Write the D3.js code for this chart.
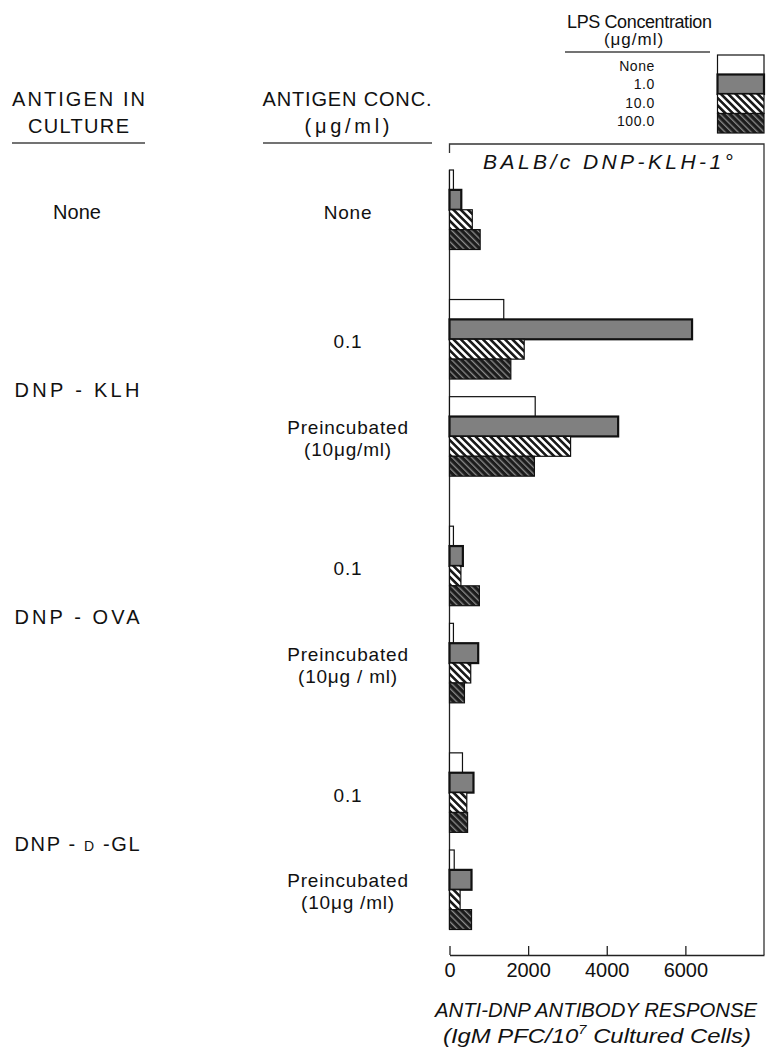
<!DOCTYPE html>
<html>
<head>
<meta charset="utf-8">
<script src="https://cdn.jsdelivr.net/npm/d3@7"></script>
<style>
  body { margin: 0; background: #fff; }
  svg { display: block; font-family: "Liberation Sans", Arial, sans-serif; }
</style>
</head>
<body>
<div id="chart"></div>
<script>
'use strict';

const lpsLevels = ['None', '1.0', '10.0', '100.0'];

const antigens = ['None', 'DNP - KLH', 'DNP - OVA', 'DNP - D -GL'];

// one entry per bar group, top to bottom
const groupAntigen = ['None', 'DNP - KLH', 'DNP - KLH', 'DNP - OVA', 'DNP - OVA', 'DNP - D -GL', 'DNP - D -GL'];
const groupConc = ['None', '0.1', 'Preincubated|(10μg/ml)', '0.1', 'Preincubated|(10μg / ml)', '0.1', 'Preincubated|(10μg /ml)'];

// anti-DNP IgM PFC / 10^7 cultured cells, one array per LPS concentration
const lpsNone = [100, 1380, 2180, 100, 100, 330, 120];
const lps1 = [300, 6170, 4290, 340, 730, 610, 560];
const lps10 = [580, 1900, 3080, 290, 540, 440, 270];
const lps100 = [780, 1560, 2160, 760, 380, 460, 560];

const xTicks = [0, 2000, 4000, 6000];

function buildChart() {

    const width = 774;
    const height = 1051;

    const plotLeft = 449.5;
    const plotRight = 764;
    const plotTop = 144;
    const plotBottom = 955;

    const svg = d3.select('#chart')
        .append('svg')
            .attr('width', width)
            .attr('height', height)
            .attr('viewBox', `0 0 ${width} ${height}`);

    // hatch patterns
    const defs = svg.append('defs');

    defs.append('pattern')
        .attr('id', 'hatchLight')
        .attr('patternUnits', 'userSpaceOnUse')
        .attr('width', 5.2)
        .attr('height', 5.2)
        .attr('patternTransform', 'rotate(-45)')
        .call(p => {
            p.append('rect').attr('width', 5.2).attr('height', 5.2).attr('fill', '#fff');
            p.append('rect').attr('width', 2.6).attr('height', 5.2).attr('fill', '#1a1a1a');
        });

    defs.append('pattern')
        .attr('id', 'hatchDark')
        .attr('patternUnits', 'userSpaceOnUse')
        .attr('width', 4.6)
        .attr('height', 4.6)
        .attr('patternTransform', 'rotate(-45)')
        .call(p => {
            p.append('rect').attr('width', 4.6).attr('height', 4.6).attr('fill', '#1c1c1c');
            p.append('rect').attr('width', 1.3).attr('height', 4.6).attr('fill', '#8a8a8a');
        });

    const fills = ['#ffffff', '#808080', 'url(#hatchLight)', 'url(#hatchDark)'];
    const strokeWidths = [1.2, 2.2, 1.2, 1.2];

    const series = [lpsNone, lps1, lps10, lps100];

    const groups = groupAntigen.map((antigen, i) => ({
        antigen,
        conc: groupConc[i].split('|'),
        bars: lpsLevels.map((lps, j) => ({ lps, idx: j, value: series[j][i] }))
    }));

    // 3 units between conditions of one antigen, 4 units between antigens
    let slot = 0;
    groups.forEach((g, i) => {
        if (i > 0) slot += g.antigen === groups[i - 1].antigen ? 3 : 4;
        g.slot = slot;
    });

    const x = d3.scaleLinear()
        .domain([0, 8000])
        .range([plotLeft, plotRight]);

    const y = d3.scaleLinear()
        .domain([0, slot])
        .range([170, 850]);

    const band = d3.scaleBand()
        .domain(lpsLevels)
        .range([0, 79.5]);

    const groupCenter = g => y(g.slot) + band.range()[1] / 2;

    // frame
    svg.append('path')
        .attr('d', `M${plotLeft},${plotTop + 9}V${plotTop}H${plotRight}V${plotBottom}`)
        .attr('fill', 'none')
        .attr('stroke', '#333')
        .attr('stroke-width', 1.3);

    // zero line
    svg.append('line')
        .attr('x1', x(0)).attr('x2', x(0))
        .attr('y1', y(0)).attr('y2', y(slot) + band.range()[1])
        .attr('stroke', '#222')
        .attr('stroke-width', 1.3);

    // x axis
    const xAxis = d3.axisBottom(x)
        .tickValues(xTicks)
        .tickSize(-9)
        .tickSizeOuter(0)
        .tickFormat(d3.format('d'));

    const axisG = svg.append('g')
        .attr('transform', `translate(0,${plotBottom})`)
        .call(xAxis);

    axisG.select('.domain').attr('stroke', '#222').attr('stroke-width', 1.3);
    axisG.selectAll('.tick line').attr('stroke', '#222').attr('stroke-width', 1.3);
    axisG.selectAll('.tick text')
        .attr('y', 22)
        .attr('dy', 0)
        .attr('font-size', 20)
        .attr('font-family', '"Liberation Sans", Arial, sans-serif')
        .attr('fill', '#111');

    // bars
    const groupG = svg.append('g')
        .selectAll('g')
        .data(groups)
        .enter()
            .append('g')
            .attr('transform', d => `translate(0,${y(d.slot)})`);

    groupG.selectAll('rect')
        .data(d => d.bars)
        .enter()
            .append('rect')
                .attr('x', x(0))
                .attr('y', d => band(d.lps))
                .attr('width', d => x(d.value) - x(0))
                .attr('height', band.bandwidth())
                .attr('fill', d => fills[d.idx])
                .attr('stroke', '#111')
                .attr('stroke-width', d => strokeWidths[d.idx]);

    // concentration labels
    const concText = svg.append('g')
        .selectAll('text')
        .data(groups)
        .enter()
            .append('text')
                .attr('text-anchor', 'middle')
                .attr('font-size', 19)
                .attr('fill', '#111')
                .attr('y', d => d.conc.length > 1 ? groupCenter(d) - 2.5 : groupCenter(d) + 9);

    concText.selectAll('tspan')
        .data(d => d.conc)
        .enter()
            .append('tspan')
                .attr('x', 348)
                .attr('dy', (d, i) => i === 0 ? 0 : 22)
                .attr('letter-spacing', 0.8)
                .text(d => d);

    // antigen labels
    antigens.forEach(a => {
        const members = groups.filter(g => g.antigen === a);
        const cy = d3.mean(members, groupCenter);
        const t = svg.append('text')
            .attr('x', 77)
            .attr('y', cy + 9.5)
            .attr('text-anchor', 'middle')
            .attr('font-size', 20)
            .attr('fill', '#111');
        if (a === 'None') {
            t.text(a);
        } else if (a.indexOf(' D ') >= 0) {
            t.attr('textLength', 125).attr('lengthAdjust', 'spacing');
            t.append('tspan').text('DNP - ');
            t.append('tspan').attr('font-size', 14).text('D');
            t.append('tspan').text(' -GL');
        } else {
            t.attr('textLength', 125).attr('lengthAdjust', 'spacing').text(a);
        }
    });

    // column headers
    const headers = [
        { lines: ['ANTIGEN IN', 'CULTURE'], cx: 78.5, widths: [133, 101], x0: 12, x1: 145 },
        { lines: ['ANTIGEN CONC.', '(μg/ml)'], cx: 347, widths: [169, 85], x0: 263, x1: 432 }
    ];

    headers.forEach(h => {
        h.lines.forEach((line, i) => {
            svg.append('text')
                .attr('x', h.cx)
                .attr('y', 106 + i * 27)
                .attr('text-anchor', 'middle')
                .attr('font-size', 20)
                .attr('fill', '#111')
                .attr('textLength', h.widths[i])
                .attr('lengthAdjust', 'spacing')
                .text(line);
        });
        svg.append('line')
            .attr('x1', h.x0).attr('x2', h.x1)
            .attr('y1', 143).attr('y2', 143)
            .attr('stroke', '#444')
            .attr('stroke-width', 1.3);
    });

    // panel title
    svg.append('text')
        .attr('x', 483)
        .attr('y', 169)
        .attr('font-size', 21)
        .attr('font-style', 'italic')
        .attr('fill', '#111')
        .attr('textLength', 250)
        .attr('lengthAdjust', 'spacing')
        .text('BALB/c  DNP-KLH-1°');

    // axis title
    svg.append('text')
        .attr('x', 596)
        .attr('y', 1017)
        .attr('text-anchor', 'middle')
        .attr('font-size', 20.5)
        .attr('font-style', 'italic')
        .attr('fill', '#111')
        .attr('textLength', 322)
        .attr('lengthAdjust', 'spacingAndGlyphs')
        .text('ANTI-DNP ANTIBODY RESPONSE');

    const sub = svg.append('text')
        .attr('x', 597)
        .attr('y', 1043)
        .attr('text-anchor', 'middle')
        .attr('font-size', 21)
        .attr('font-style', 'italic')
        .attr('fill', '#111')
        .attr('textLength', 308)
        .attr('lengthAdjust', 'spacingAndGlyphs');
    sub.append('tspan').text('(IgM PFC/10');
    sub.append('tspan').attr('font-size', 13).attr('dy', -9).text('7');
    sub.append('tspan').attr('dy', 9).text(' Cultured Cells)');

    // legend
    svg.append('text')
        .attr('x', 567)
        .attr('y', 28)
        .attr('font-size', 18)
        .attr('fill', '#111')
        .attr('textLength', 145)
        .attr('lengthAdjust', 'spacing')
        .text('LPS  Concentration');

    svg.append('text')
        .attr('x', 634)
        .attr('y', 45)
        .attr('text-anchor', 'middle')
        .attr('font-size', 17)
        .attr('fill', '#111')
        .attr('letter-spacing', 1)
        .text('(μg/ml)');

    svg.append('line')
        .attr('x1', 565).attr('x2', 710)
        .attr('y1', 52).attr('y2', 52)
        .attr('stroke', '#444')
        .attr('stroke-width', 1.3);

    const legendItem = svg.append('g')
        .selectAll('g')
        .data(lpsLevels)
        .enter()
            .append('g');

    legendItem.append('rect')
        .attr('x', 717.5)
        .attr('y', (d, i) => 55 + i * 19.5)
        .attr('width', 46.5)
        .attr('height', 19.5)
        .attr('fill', (d, i) => fills[i])
        .attr('stroke', '#111')
        .attr('stroke-width', (d, i) => strokeWidths[i]);

    legendItem.append('text')
        .attr('x', 655)
        .attr('y', (d, i) => 71 + i * 18.4)
        .attr('text-anchor', 'end')
        .attr('font-size', 14)
        .attr('letter-spacing', 0.6)
        .attr('fill', '#111')
        .text(d => d);
}

window.addEventListener('DOMContentLoaded', () => {
    buildChart();
});
</script>
</body>
</html>
